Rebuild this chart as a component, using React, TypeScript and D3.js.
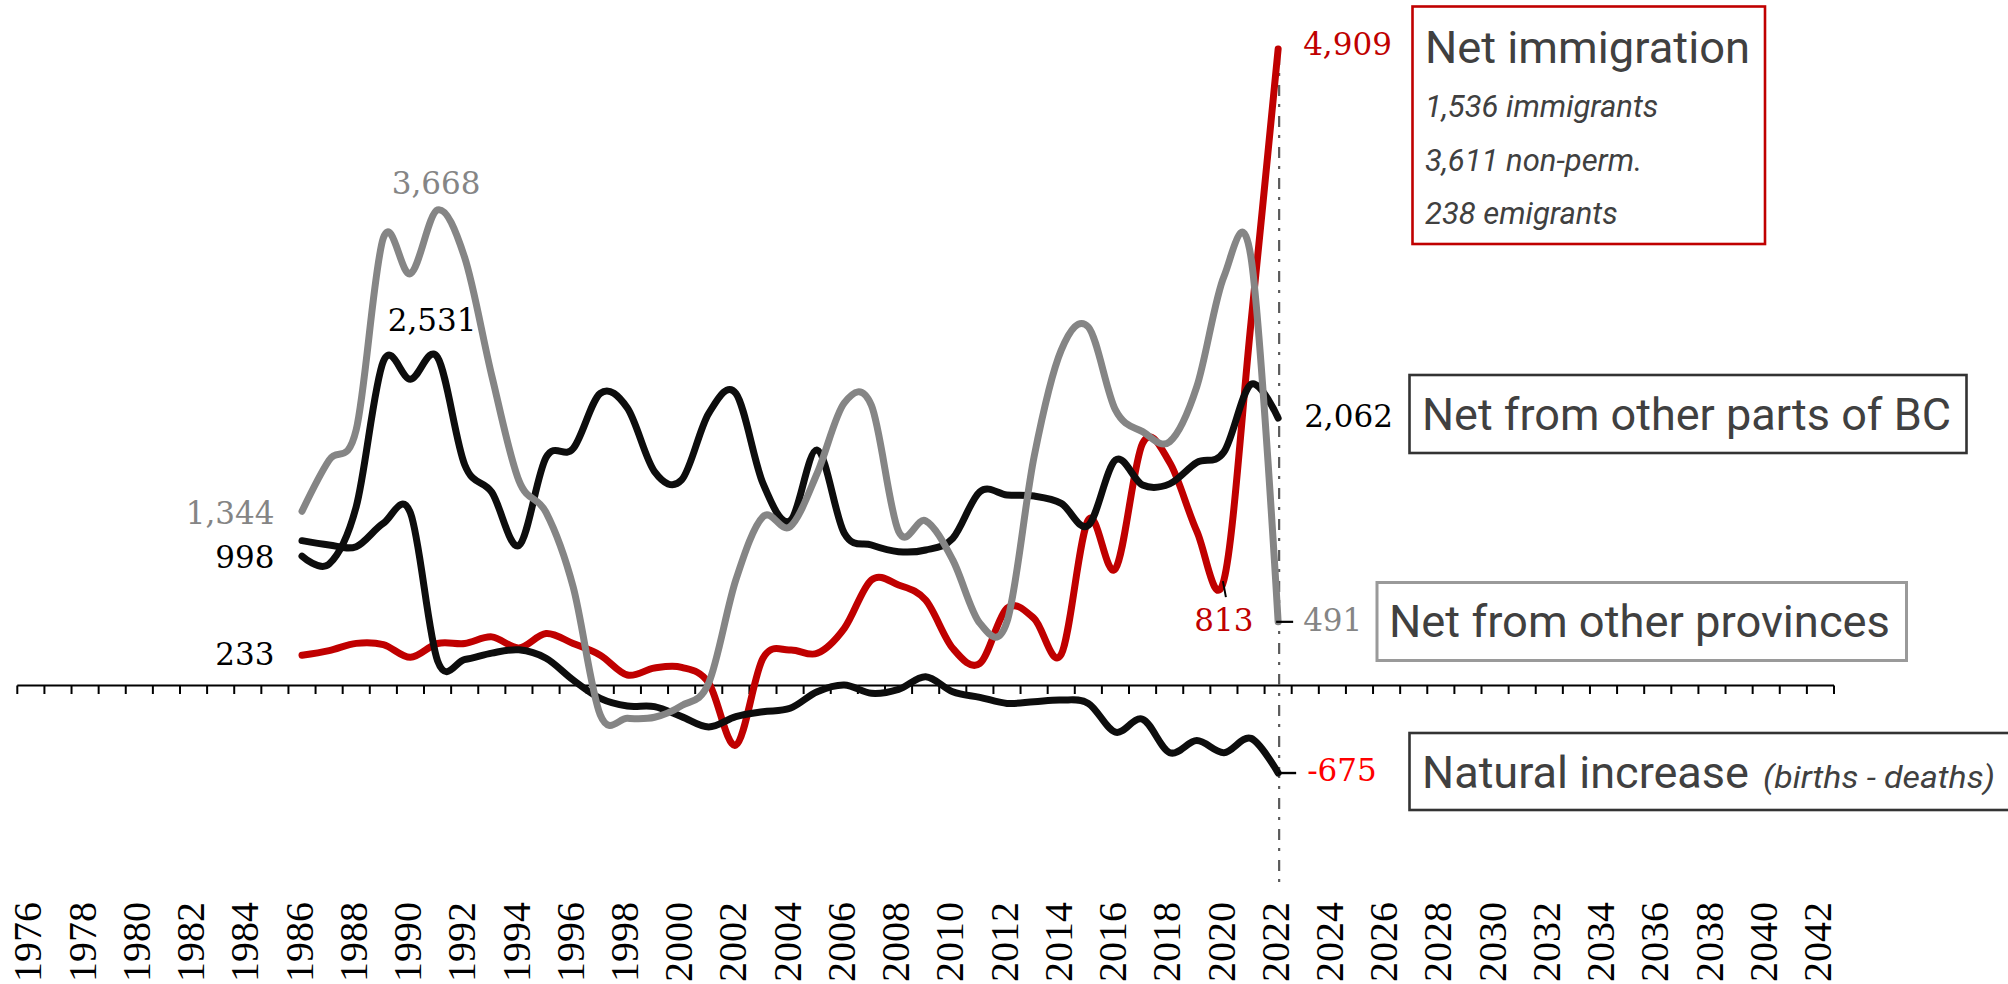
import React from 'react';
import * as d3 from 'd3';

// ---- Data ----
const years = [
  1986, 1987, 1988, 1989, 1990, 1991, 1992, 1993, 1994, 1995, 1996, 1997, 1998,
  1999, 2000, 2001, 2002, 2003, 2004, 2005, 2006, 2007, 2008, 2009, 2010, 2011,
  2012, 2013, 2014, 2015, 2016, 2017, 2018, 2019, 2020, 2021, 2022,
];

const netImmigration = [
  233, 269, 325, 315, 217, 324, 324, 375, 290, 401, 324, 234, 81,
  135, 140, 20, -460, 210, 274, 248, 441, 814, 775, 659, 287, 171,
  596, 517, 240, 1277, 900, 1868, 1720, 1190, 813, 2800, 4909,
];

const netOtherProvinces = [
  1344, 1738, 1973, 3452, 3176, 3668, 3300, 2388, 1580, 1335, 760, -227, -253,
  -245, -155, 20, 814, 1302, 1225, 1637, 2180, 2160, 1190, 1270, 968, 480,
  492, 1765, 2586, 2765, 2125, 1958, 1880, 2305, 3154, 3300, 491,
];

const netOtherBC = [
  998, 937, 1380, 2500, 2362, 2531, 1703, 1490, 1080, 1758, 1827, 2253, 2140,
  1650, 1585, 2099, 2253, 1559, 1270, 1816, 1174, 1084, 1032, 1045, 1135, 1495,
  1469, 1461, 1405, 1235, 1739, 1546, 1555, 1720, 1800, 2323, 2062,
];

const naturalIncrease = [
  1117, 1084, 1071, 1251, 1330, 190, 200, 250, 275, 210, 42, -99, -158,
  -163, -240, -320, -240, -202, -176, -48, 4, -60, -30, 68, -48, -91,
  -138, -125, -112, -138, -360, -260, -518, -425, -518, -408, -675,
];

const axisFirstYear = 1976;
const axisLastYear = 2042;
const axisYears = d3.range(axisFirstYear, axisLastYear + 1);
const tickLabelYears = axisYears.filter((yr) => yr % 2 === 0);

const immigrationDetails = ['1,536 immigrants', '3,611 non-perm.', '238 emigrants'];

const W = 2008;
const H = 984;

const RED = '#c00000';
const BRIGHT_RED = '#ff0000';
const GRAY = '#858585';
const BLACK = '#0d0d0d';
const TEXT = '#404040';
const SERIF_LABEL = '"DejaVu Serif", serif';
const SERIF_TICK = '"Liberation Serif", "Times New Roman", serif';
const SANS = 'Roboto, "Noto Sans", sans-serif';

const fmt = (v: number) => d3.format(',')(v).replace('\u2212', '-');

export default function App() {
  const x = d3
    .scaleBand<number>()
    .domain(axisYears)
    .range([17.3, 1834])
    .padding(0);
  const bw = x.bandwidth();
  const xc = (yr: number) => (x(yr) as number) + bw / 2;
  const y = d3.scaleLinear().domain([0, 4909]).range([685.5, 49]);

  const line = d3
    .line<number>()
    .x((_, i) => xc(years[i]))
    .y((d) => y(d))
    .curve(d3.curveCardinal.tension(0));

  const last = years.length - 1;
  const xEnd = xc(years[last]);
  const axisY = y(0);

  const series = [
    { values: netImmigration, color: RED },
    { values: naturalIncrease, color: BLACK },
    { values: netOtherBC, color: BLACK },
    { values: netOtherProvinces, color: GRAY },
  ];

  // tick positions at category boundaries
  const tickXs = axisYears.map((yr) => x(yr) as number).concat([(x(axisLastYear) as number) + bw]);

  const peakProvIdx = netOtherProvinces.indexOf(d3.max(netOtherProvinces) as number);
  const peakBCIdx = 5;
  const dipImmIdx = years.indexOf(2020);

  return (
    <div style={{ position: 'absolute', left: 0, top: 0, width: W, height: H, overflow: 'hidden', background: '#fff' }}>
      <svg width={W} height={H} style={{ display: 'block' }}>
        {/* x axis */}
        <line x1={tickXs[0]} x2={tickXs[tickXs.length - 1]} y1={axisY} y2={axisY} stroke="#000" strokeWidth={2.2} />
        {tickXs.map((tx, i) => (
          <line key={'t' + i} x1={tx} x2={tx} y1={axisY} y2={axisY + 8.5} stroke="#000" strokeWidth={2} />
        ))}
        {tickLabelYears.map((yr) => (
          <text
            key={'l' + yr}
            transform={`translate(${xc(yr) - 3},902) rotate(-90)`}
            textAnchor="end"
            dy="0.34em"
            fontFamily={SERIF_TICK}
            fontSize={40}
            fill="#000"
          >
            {yr}
          </text>
        ))}

        {/* dash-dot latest-year line */}
        <line x1={xEnd + 1} x2={xEnd + 1} y1={y(4909) + 5} y2={882} stroke="#5a5a5a" strokeWidth={2.2} strokeDasharray="11 8 3 9" />

        {/* series */}
        {series.map((s, i) => (
          <path
            key={'s' + i}
            d={line(s.values) || ''}
            fill="none"
            stroke={s.color}
            strokeWidth={7}
            strokeLinejoin="round"
            strokeLinecap="round"
          />
        ))}

        {/* leaders */}
        <line x1={xEnd - 2} x2={xEnd + 15} y1={y(netOtherProvinces[last])} y2={y(netOtherProvinces[last])} stroke="#000" strokeWidth={2.2} />
        <line x1={xEnd} x2={xEnd + 18} y1={y(naturalIncrease[last])} y2={y(naturalIncrease[last])} stroke="#000" strokeWidth={2.4} />
        <line
          x1={xc(years[dipImmIdx]) - 1}
          x2={xc(years[dipImmIdx]) + 2}
          y1={y(netImmigration[dipImmIdx]) + 1}
          y2={y(netImmigration[dipImmIdx]) + 17}
          stroke="#000"
          strokeWidth={2}
        />

        {/* start labels */}
        <g fontFamily={SERIF_LABEL} fontSize={31}>
          <text x={xc(years[0]) - 27.5} y={y(netOtherProvinces[0]) + 13} textAnchor="end" fill={GRAY}>
            {fmt(netOtherProvinces[0])}
          </text>
          <text x={xc(years[0]) - 27.5} y={y(netOtherBC[0]) + 11.5} textAnchor="end" fill="#000">
            {fmt(netOtherBC[0])}
          </text>
          <text x={xc(years[0]) - 27.5} y={y(netImmigration[0]) + 10} textAnchor="end" fill="#000">
            {fmt(netImmigration[0])}
          </text>
          <text x={xc(years[peakBCIdx]) - 5.5} y={y(netOtherBC[peakBCIdx]) - 26} textAnchor="middle" fill="#000">
            {fmt(netOtherBC[peakBCIdx])}
          </text>
          <text x={xc(years[peakProvIdx]) - 1.5} y={y(netOtherProvinces[peakProvIdx]) - 16} textAnchor="middle" fill={GRAY}>
            {fmt(netOtherProvinces[peakProvIdx])}
          </text>
          {/* end labels */}
          <text x={xEnd + 25} y={y(netImmigration[last]) + 6} fill={RED}>
            {fmt(netImmigration[last])}
          </text>
          <text x={xEnd + 26} y={y(netOtherBC[last]) + 8.6} fill="#000">
            {fmt(netOtherBC[last])}
          </text>
          <text x={xEnd + 25} y={y(netOtherProvinces[last]) + 9} fill={GRAY}>
            {fmt(netOtherProvinces[last])}
          </text>
          <text x={xEnd + 29} y={y(naturalIncrease[last]) + 7.7} fill={BRIGHT_RED}>
            {fmt(naturalIncrease[last])}
          </text>
          <text x={xc(years[dipImmIdx])} y={y(netImmigration[dipImmIdx]) + 50.6} textAnchor="middle" fill={RED}>
            {fmt(netImmigration[dipImmIdx])}
          </text>
        </g>

        {/* legend boxes */}
        <rect x={1412.5} y={6.5} width={352.5} height={237.5} fill="none" stroke={RED} strokeWidth={2.6} />
        <text x={1425} y={63} fontFamily={SANS} fontSize={45} fill={TEXT} textLength={325} lengthAdjust="spacingAndGlyphs">
          Net immigration
        </text>
        {immigrationDetails.map((t, i) => (
          <text
            key={'d' + i}
            x={1425}
            y={117 + i * 53.5}
            fontFamily={SANS}
            fontStyle="italic"
            fontSize={31}
            fill={TEXT}
          >
            {t}
          </text>
        ))}

        <rect x={1409.5} y={375} width={557} height={78} fill="none" stroke="#333" strokeWidth={2.6} />
        <text x={1422} y={430} fontFamily={SANS} fontSize={45} fill={TEXT} textLength={529} lengthAdjust="spacingAndGlyphs">
          Net from other parts of BC
        </text>

        <rect x={1377} y={582.5} width={529.5} height={78} fill="none" stroke="#9a9a9a" strokeWidth={3} />
        <text x={1389} y={637} fontFamily={SANS} fontSize={45} fill={TEXT} textLength={501} lengthAdjust="spacingAndGlyphs">
          Net from other provinces
        </text>

        <rect x={1409.5} y={733} width={620} height={77} fill="none" stroke="#333" strokeWidth={2.6} />
        <text x={1422} y={788} fontFamily={SANS} fontSize={45} fill={TEXT} textLength={327} lengthAdjust="spacingAndGlyphs">
          Natural increase
        </text>
        <text x={1763} y={788} fontFamily={SANS} fontStyle="italic" fontSize={32} fill={TEXT} textLength={232} lengthAdjust="spacingAndGlyphs">
          (births - deaths)
        </text>
      </svg>
    </div>
  );
}
